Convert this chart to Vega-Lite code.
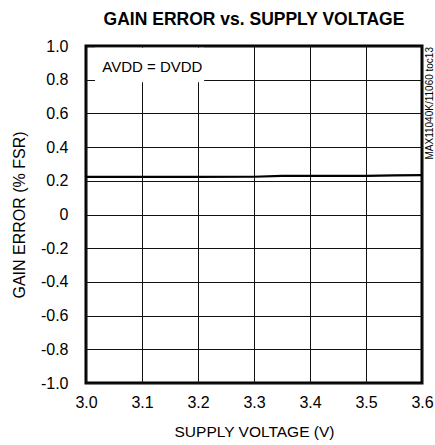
{
  "$schema": "https://vega.github.io/schema/vega-lite/v6.json",
  "autosize": "none",
  "width": 336,
  "height": 337,
  "padding": {"left": 86, "top": 46, "right": 13, "bottom": 62},
  "background": "white",
  "title": {
    "text": "GAIN ERROR vs. SUPPLY VOLTAGE",
    "font": "Liberation Sans",
    "fontSize": 17.5,
    "fontWeight": "bold",
    "color": "black",
    "anchor": "middle",
    "offset": 10
  },
  "config": {
    "view": {"stroke": "black", "strokeWidth": 3},
    "font": "Liberation Sans",
    "axis": {
      "labelFont": "Liberation Sans",
      "titleFont": "Liberation Sans",
      "labelColor": "black",
      "titleColor": "black",
      "titleFontWeight": "normal",
      "domain": false,
      "ticks": false,
      "tickSize": 0,
      "grid": true,
      "gridColor": "#111",
      "gridWidth": 1,
      "gridOpacity": 1,
      "labelOverlap": false
    }
  },
  "datasets": {
    "curve": [
      {"v": 3.0, "err": 0.223},
      {"v": 3.1, "err": 0.223},
      {"v": 3.2, "err": 0.223},
      {"v": 3.3, "err": 0.224},
      {"v": 3.35, "err": 0.229},
      {"v": 3.4, "err": 0.229},
      {"v": 3.5, "err": 0.229},
      {"v": 3.55, "err": 0.232},
      {"v": 3.6, "err": 0.234}
    ],
    "note": [
      {"x1": 3.016, "x2": 3.211, "y1": 0.785, "y2": 0.99, "tx": 3.029, "ty": 0.875, "label": "AVDD = DVDD"}
    ],
    "tag": [
      {"x": 3.6, "y": 1.0, "label": "MAX11040K/11060 toc13"}
    ]
  },
  "layer": [
    {
      "data": {"name": "curve"},
      "mark": {"type": "line", "color": "black", "strokeWidth": 2.2},
      "encoding": {
        "x": {
          "field": "v", "type": "quantitative",
          "scale": {"domain": [3.0, 3.6], "nice": false, "zero": false},
          "axis": {
            "values": [3.0, 3.1, 3.2, 3.3, 3.4, 3.5, 3.6],
            "tickCount": 7,
            "format": ".1f",
            "labelFontSize": 16,
            "labelPadding": 11,
            "labelFlush": false,
            "title": "SUPPLY VOLTAGE (V)",
            "titleFontSize": 15.5,
            "titlePadding": 14
          }
        },
        "y": {
          "field": "err", "type": "quantitative",
          "scale": {"domain": [-1, 1], "nice": false, "zero": false},
          "axis": {
            "values": [-1, -0.8, -0.6, -0.4, -0.2, 0, 0.2, 0.4, 0.6, 0.8, 1],
            "tickCount": 11,
            "labelExpr": "datum.value == 0 ? '0' : replace(format(datum.value, '.1f'), '\u2212', '-')",
            "labelFontSize": 16,
            "labelPadding": 18,
            "labelFlush": false,
            "title": "GAIN ERROR (% FSR)",
            "titleFontSize": 16,
            "titlePadding": 13
          }
        }
      }
    },
    {
      "data": {"name": "note"},
      "mark": {"type": "rect", "fill": "white", "stroke": null},
      "encoding": {
        "x": {"field": "x1", "type": "quantitative"},
        "x2": {"field": "x2"},
        "y": {"field": "y1", "type": "quantitative"},
        "y2": {"field": "y2"}
      }
    },
    {
      "data": {"name": "note"},
      "mark": {"type": "text", "align": "left", "baseline": "middle", "fontSize": 15, "color": "black", "font": "Liberation Sans"},
      "encoding": {
        "x": {"field": "tx", "type": "quantitative"},
        "y": {"field": "ty", "type": "quantitative"},
        "text": {"field": "label"}
      }
    },
    {
      "data": {"name": "tag"},
      "mark": {"type": "text", "angle": 270, "align": "right", "baseline": "top", "dy": 3, "dx": -1, "fontSize": 10, "color": "black", "font": "Liberation Sans"},
      "encoding": {
        "x": {"field": "x", "type": "quantitative"},
        "y": {"field": "y", "type": "quantitative"},
        "text": {"field": "label"}
      }
    }
  ]
}
